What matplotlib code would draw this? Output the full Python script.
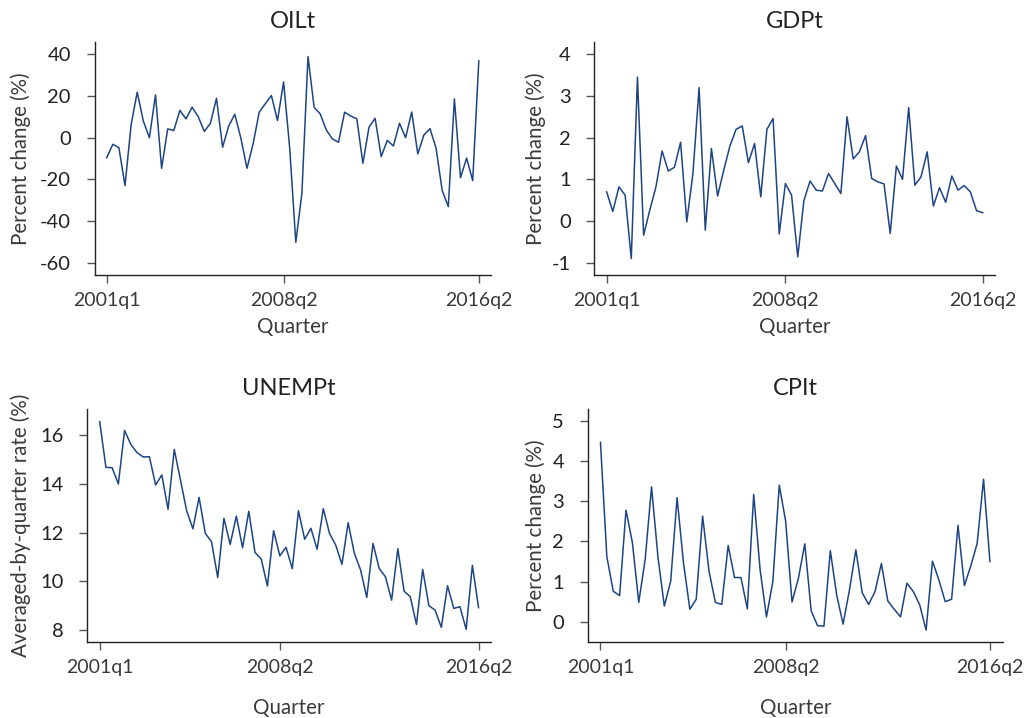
import numpy as np
import matplotlib
matplotlib.use("Agg")
import matplotlib.pyplot as plt

plt.rcParams['font.family'] = ['Lato', 'DejaVu Sans']

# ============================================================
# DATA (quarterly, 2001q1 .. 2016q2)
# ============================================================

tick_pos = [0, 29, 61]
tick_labels = ['2001q1', '2008q2', '2016q2']

oil = [-9.6, -3.2, -4.8, -23.0, 6.1, 21.8, 8.0, 0.0, 20.5, -14.7,
       4.2, 3.4, 13.1, 9.0, 14.6, 10.1, 3.0, 6.9, 18.9, -4.6,
       5.6, 11.2, -0.3, -14.7, -3.0, 12.2, 16.3, 20.2, 8.2, 26.7,
       -5.0, -50.2, -26.7, 38.9, 14.6, 11.4, 3.7, -0.6, -2.2, 12.2,
       10.4, 9.1, -12.3, 5.0, 9.3, -9.1, -1.3, -4.0, 6.9, 0.0,
       12.3, -7.8, 1.3, 4.3, -5.1, -25.4, -33.1, 18.6, -19.2, -9.8,
       -20.6, 36.8]

gdp = [0.70, 0.23, 0.82, 0.62, -0.90, 3.45, -0.34, 0.26, 0.82, 1.68,
       1.20, 1.29, 1.89, -0.02, 1.14, 3.20, -0.22, 1.74, 0.60, 1.22,
       1.80, 2.20, 2.28, 1.40, 1.86, 0.58, 2.20, 2.46, -0.31, 0.90,
       0.62, -0.86, 0.49, 0.96, 0.74, 0.72, 1.14, 0.90, 0.66, 2.50,
       1.49, 1.66, 2.05, 1.02, 0.94, 0.89, -0.30, 1.32, 1.00, 2.72,
       0.86, 1.06, 1.66, 0.36, 0.80, 0.45, 1.08, 0.74, 0.85, 0.70,
       0.25, 0.20]

unemp = [16.56, 14.68, 14.67, 14.00, 16.20, 15.63, 15.29, 15.11, 15.12, 13.96,
         14.37, 12.96, 15.42, 14.16, 12.90, 12.16, 13.45, 11.97, 11.63, 10.16,
         12.59, 11.52, 12.68, 11.38, 12.88, 11.19, 10.92, 9.81, 12.08, 11.05,
         11.40, 10.52, 12.90, 11.73, 12.18, 11.32, 12.99, 11.97, 11.49, 10.70,
         12.41, 11.15, 10.47, 9.34, 11.56, 10.53, 10.19, 9.23, 11.34, 9.60,
         9.37, 8.23, 10.49, 9.00, 8.82, 8.11, 9.82, 8.89, 8.96, 8.03,
         10.66, 8.92]

cpi = [4.47, 1.62, 0.76, 0.65, 2.78, 1.97, 0.48, 1.55, 3.36, 1.62,
       0.39, 1.01, 3.09, 1.47, 0.31, 0.56, 2.63, 1.26, 0.48, 0.43,
       1.90, 1.10, 1.10, 0.32, 3.17, 1.30, 0.12, 1.00, 3.40, 2.51,
       0.49, 1.08, 1.94, 0.27, -0.10, -0.11, 1.77, 0.66, -0.06, 0.79,
       1.79, 0.72, 0.43, 0.75, 1.45, 0.52, 0.31, 0.12, 0.96, 0.75,
       0.42, -0.21, 1.51, 1.04, 0.50, 0.56, 2.40, 0.90, 1.39, 1.95,
       3.55, 1.50]

# ============================================================
# STYLE
# ============================================================

LINE_COLOR = '#1d4584'
TEXT_COLOR = '#3a3a3a'
TICK_COLOR = '#555555'

W, H = 1036, 718


def px_axes(fig, left, top, right, bottom):
    return fig.add_axes([left / W, 1 - bottom / H, (right - left) / W, (bottom - top) / H])


def style_axes(ax, series, title, ylabel, yticks, ylim, ylabelx, xlabelpad):
    ax.plot(range(len(series)), series, color=LINE_COLOR, linewidth=1.1)
    ax.set_xlim(-2, 63)
    ax.set_ylim(*ylim)
    ax.set_xticks(tick_pos)
    ax.set_xticklabels(tick_labels)
    ax.set_yticks(yticks)
    ax.set_yticklabels([str(t) for t in yticks])
    for s in ['top', 'right']:
        ax.spines[s].set_visible(False)
    for s in ['left', 'bottom']:
        ax.spines[s].set_color('#222222')
        ax.spines[s].set_linewidth(1.0)
    ax.tick_params(axis='y', length=6, width=1.0, color=TICK_COLOR,
                   labelsize=14.5, labelcolor='#222222', pad=11)
    ax.tick_params(axis='x', length=6, width=1.0, color=TICK_COLOR,
                   labelsize=14, labelcolor=TEXT_COLOR, pad=6)
    ax.set_title(title, fontsize=17, color='#222222', pad=10)
    ax.set_xlabel('Quarter', fontsize=14.8, color=TEXT_COLOR, labelpad=xlabelpad)
    ax.set_ylabel(ylabel, fontsize=14.8, color=TEXT_COLOR)
    ax.yaxis.set_label_coords(ylabelx, 0.5)


fig = plt.figure(figsize=(W / 100, H / 100), dpi=100)
fig.patch.set_facecolor('white')

ax1 = px_axes(fig, 94.5, 42, 491, 275)
style_axes(ax1, oil, 'OILt', 'Percent change (%)', [40, 20, 0, -20, -40, -60],
           (-65.9, 45.9), (31 - 94.5) / (491 - 94.5), 6)

ax2 = px_axes(fig, 594.3, 42, 995, 275)
style_axes(ax2, gdp, 'GDPt', 'Percent change (%)', [4, 3, 2, 1, 0, -1],
           (-1.295, 4.295), (546 - 594.3) / (995 - 594.3), 6)

ax3 = px_axes(fig, 87.3, 409, 491, 642)
style_axes(ax3, unemp, 'UNEMPt', 'Averaged-by-quarter rate (%)', [16, 14, 12, 10, 8],
           (7.51, 17.08), (31 - 87.3) / (491 - 87.3), 16)

ax4 = px_axes(fig, 587.7, 409, 1002.7, 642)
style_axes(ax4, cpi, 'CPIt', 'Percent change (%)', [5, 4, 3, 2, 1, 0],
           (-0.506, 5.3), (546 - 587.7) / (1002.7 - 587.7), 16)

fig.savefig('out.png', dpi=100, facecolor='white')
